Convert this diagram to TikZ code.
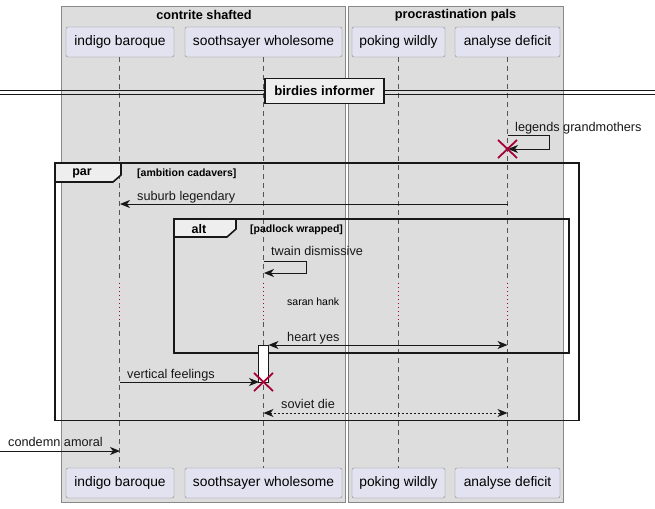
\documentclass[tikz,border=0pt]{standalone}
\usepackage{fontspec}
\setmainfont{Liberation Sans}
\usetikzlibrary{arrows.meta}
\definecolor{grpbg}{HTML}{DDDDDD}
\definecolor{grpln}{HTML}{888888}
\definecolor{partbg}{HTML}{E2E2F0}
\definecolor{tabbg}{HTML}{EEEEEE}
\definecolor{life}{HTML}{555555}
\definecolor{dred}{HTML}{A80036}
\definecolor{ink}{HTML}{181818}
\begin{document}
\begin{tikzpicture}[x=1pt,y=-1pt,
  part/.style={draw=grpln,fill=partbg,rounded corners=2pt,minimum height=30pt,inner sep=0pt,font=\fontsize{13.8}{15}\selectfont},
  lifeln/.style={draw=life,line width=0.7pt,dash pattern=on 5pt off 4pt},
  delayln/.style={draw=dred,line width=1pt,dash pattern=on 1pt off 3pt},
  msg/.style={draw=ink,line width=1pt,-{Stealth[length=10pt,width=8pt,inset=3pt]}},
  bmsg/.style={draw=ink,line width=1pt,{Stealth[length=10pt,width=8pt,inset=3pt]}-{Stealth[length=10pt,width=8pt,inset=3pt]}},
  lbl/.style={anchor=base west,inner sep=0pt,font=\fontsize{12.7}{14}\selectfont,text=ink},
  frm/.style={draw=ink,line width=1.6pt},
  tabtxt/.style={font=\bfseries\fontsize{12.5}{14}\selectfont,inner sep=0pt},
  cond/.style={anchor=base west,inner sep=0pt,font=\bfseries\fontsize{10.5}{12}\selectfont},
  xmark/.style={draw=dred,line width=1.8pt}
]
\useasboundingbox (0,0) rectangle (655,508);
\fill[white] (0,0) rectangle (655,508);
% groups
\draw[grpln,fill=grpbg,line width=0.8pt] (61,6) rectangle (345,502);
\draw[grpln,fill=grpbg,line width=0.8pt] (348,6) rectangle (563,502);
\node[font=\bfseries\fontsize{12.7}{14}\selectfont,inner sep=0pt] (g1) at (204,15) {contrite shafted};
\node[font=\bfseries\fontsize{12.7}{14}\selectfont,inner sep=0pt] (g2) at (455.5,15) {procrastination pals};
% participants
\node[part,minimum width=108pt] (ib) at (120,42) {indigo baroque};
\node[part,minimum width=157pt] (sw) at (263.5,42) {soothsayer wholesome};
\node[part,minimum width=93pt] (pw) at (398.5,42) {poking wildly};
\node[part,minimum width=105pt] (ad) at (507.5,42) {analyse deficit};
\node[part,minimum width=108pt] (ib2) at (120,483) {indigo baroque};
\node[part,minimum width=157pt] (sw2) at (263.5,483) {soothsayer wholesome};
\node[part,minimum width=93pt] (pw2) at (398.5,483) {poking wildly};
\node[part,minimum width=105pt] (ad2) at (507.5,483) {analyse deficit};
% lifelines with delay
\foreach \x in {119.5,263.5,398.5,507.5}{
  \draw[lifeln] (\x,57) -- (\x,282);
  \draw[delayln] (\x,283) -- (\x,322);
  \draw[lifeln] (\x,322) -- (\x,468);
}
% divider
\draw[ink,line width=1pt] (0,90.5) -- (655,90.5);
\draw[ink,line width=1pt] (0,94.5) -- (655,94.5);
\node[draw=ink,fill=tabbg,line width=1.6pt,minimum width=119pt,minimum height=25pt,inner sep=0pt,font=\bfseries\fontsize{13.2}{14}\selectfont] (div) at (324.5,91) {birdies informer};
% self message legends grandmothers
\coordinate (l1) at (507.5,135);
\coordinate (l2) at (549,135);
\coordinate (l3) at (549,149);
\coordinate (l4) at (508,149);
\draw[msg] (l1) -- (l2) -- (l3) -- (l4);
\node[lbl] (t1) at (515,131) {legends grandmothers};
\draw[xmark] (498,140) -- (517,158);
\draw[xmark] (498,158) -- (517,140);
% par frame
\draw[frm] (55,163) rectangle (579,420.5);
\draw[frm,fill=tabbg] (55,163) -- (121,163) -- (121,175) -- (113,182) -- (55,182) -- cycle;
\node[tabtxt] (partxt) at (82,173) {par};
\node[cond] (c1) at (137,176.5) {[ambition cadavers]};
% suburb legendary
\coordinate (s1) at (507.5,204);
\coordinate (s2) at (120,204);
\draw[msg] (s1) -- (s2);
\node[lbl] (t2) at (137,200) {suburb legendary};
% alt frame
\draw[frm] (174,219) rectangle (569,353);
\draw[frm,fill=tabbg] (174,219) -- (236,219) -- (236,229) -- (227,237) -- (174,237) -- cycle;
\node[tabtxt] (alttxt) at (199,229) {alt};
\node[cond] (c2) at (250,232.5) {[padlock wrapped]};
% twain dismissive
\coordinate (w1) at (263.5,261);
\coordinate (w2) at (306,261);
\coordinate (w3) at (306,273);
\coordinate (w4) at (264,273);
\draw[msg] (w1) -- (w2) -- (w3) -- (w4);
\node[lbl] (t3) at (271,255) {twain dismissive};
% delay text
\node[anchor=base west,inner sep=0pt,font=\fontsize{10.5}{12}\selectfont] (dl) at (287,305) {saran hank};
% activation
\draw[ink,fill=white,line width=0.8pt] (258.5,345) rectangle (268.5,382);
% heart yes
\coordinate (h1) at (268.5,345);
\coordinate (h2) at (507.5,345);
\draw[bmsg] (h1) -- (h2);
\node[lbl] (t4) at (287,341) {heart yes};
% vertical feelings
\coordinate (v1) at (120,382);
\coordinate (v2) at (259,382);
\draw[msg] (v1) -- (v2);
\node[lbl] (t5) at (127,378) {vertical feelings};
\draw[xmark] (254,373) -- (273,391);
\draw[xmark] (254,391) -- (273,373);
% soviet die
\coordinate (d1) at (263.5,413);
\coordinate (d2) at (507.5,413);
\draw[bmsg,dash pattern=on 2pt off 2pt] (d1) -- (d2);
\node[lbl] (t6) at (281,408) {soviet die};
% condemn amoral
\coordinate (a0) at (0,451);
\coordinate (a1) at (120,451);
\draw[msg] (a0) -- (a1);
\node[lbl] (t7) at (8,446) {condemn amoral};
\end{tikzpicture}
\end{document}
